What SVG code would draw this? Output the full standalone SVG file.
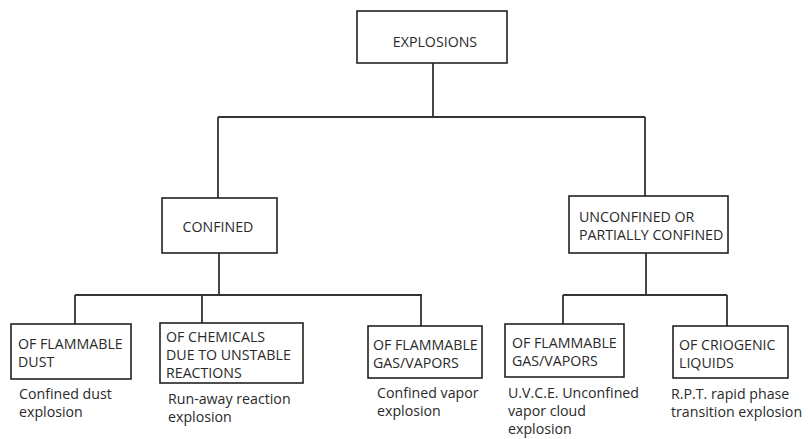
<svg xmlns="http://www.w3.org/2000/svg" width="808" height="439" viewBox="0 0 808 439">
<style>
.box{fill:#fff;stroke:#222;stroke-width:1.6}
.ln{fill:none;stroke:#333;stroke-width:1.8}
text{font-family:"Open Sans","Noto Sans",sans-serif;font-size:14.2px;fill:#2a2a2a}
.c{text-anchor:middle}
</style>
<rect width="808" height="439" fill="#fff"/>
<g id="connectors">
<path class="ln" d="M433 63V117M218 117H645M218 117V198M645 117V196"/>
<path class="ln" d="M219 253V295M75 295H422M75 295V324M202 295V323M421 295V326"/>
<path class="ln" d="M646 253V295M563 295H727M563 295V324M727 295V326"/>
</g>
<g id="explosions"><rect class="box" x="357" y="11" width="150" height="52"/><text class="c" x="435" y="47">EXPLOSIONS</text></g>
<g id="confined"><rect class="box" x="162" y="198" width="115" height="55"/><text class="c" x="218" y="232">CONFINED</text></g>
<g id="unconfined"><rect class="box" x="569" y="196" width="159" height="57"/><text x="579" y="222">UNCONFINED OR</text><text x="579" y="240">PARTIALLY CONFINED</text></g>
<g id="dust"><rect class="box" x="11" y="324" width="120" height="55"/><text x="18" y="349">OF FLAMMABLE</text><text x="18" y="367">DUST</text><text x="19" y="399">Confined dust</text><text x="19" y="417">explosion</text></g>
<g id="chemicals"><rect class="box" x="160" y="323" width="143" height="60"/><text x="166" y="342">OF CHEMICALS</text><text x="166" y="360">DUE TO UNSTABLE</text><text x="166" y="378">REACTIONS</text><text x="168" y="404">Run-away reaction</text><text x="168" y="422">explosion</text></g>
<g id="gas-confined"><rect class="box" x="368" y="326" width="114" height="52"/><text x="373" y="350">OF FLAMMABLE</text><text x="373" y="368">GAS/VAPORS</text><text x="377" y="398">Confined vapor</text><text x="377" y="416">explosion</text></g>
<g id="gas-unconfined"><rect class="box" x="505" y="324" width="119" height="53"/><text x="512" y="348">OF FLAMMABLE</text><text x="512" y="366">GAS/VAPORS</text><text x="508" y="398">U.V.C.E. Unconfined</text><text x="508" y="416">vapor cloud</text><text x="508" y="434">explosion</text></g>
<g id="criogenic"><rect class="box" x="673" y="326" width="115" height="52"/><text x="679" y="350">OF CRIOGENIC</text><text x="679" y="368">LIQUIDS</text><text x="671" y="399">R.P.T. rapid phase</text><text x="671" y="417">transition explosion</text></g>
</svg>
